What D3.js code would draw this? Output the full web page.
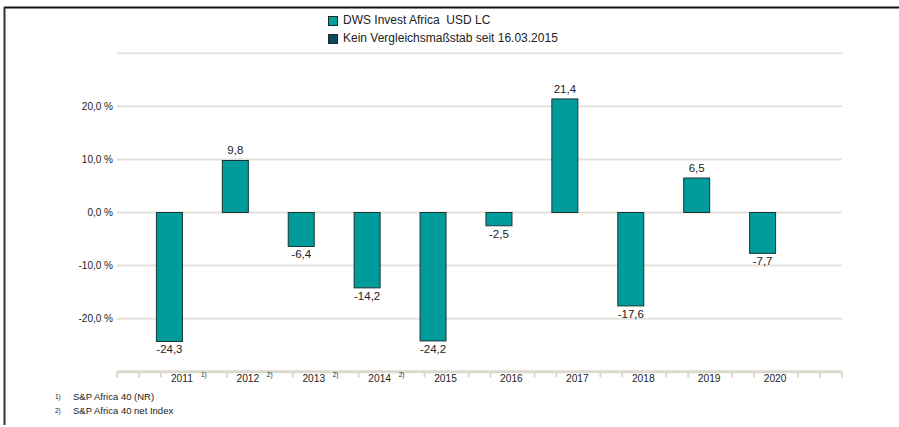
<!DOCTYPE html>
<html>
<head>
<meta charset="utf-8">
<script src="https://cdn.jsdelivr.net/npm/d3@7"></script>
<style>
  body { margin: 0; background: #fff; }
  svg { display: block; font-family: "Liberation Sans", Arial, sans-serif; }
  text { white-space: pre; }
</style>
</head>
<body>
<div id="chart"></div>
<script>
const years = ["2011", "2012", "2013", "2014", "2015", "2016", "2017", "2018", "2019", "2020"];
const fundValues = [-24.3, 9.8, -6.4, -14.2, -24.2, -2.5, 21.4, -17.6, 6.5, -7.7];
const yearNotes = ["1)", "2)", "2)", "2)", "", "", "", "", "", ""];
const yTicks = [-20, -10, 0, 10, 20];
const gridValues = [-20, -10, 0, 10, 20, 30];
const legendItems = ["DWS Invest Africa  USD LC", "Kein Vergleichsmaßstab seit 16.03.2015"];
const legendColors = ["#06a0a0", "#0a4a68"];
const footnoteMarks = ["1)", "2)"];
const footnoteTexts = ["S&P Africa 40 (NR)", "S&P Africa 40 net Index"];

const width = 899, height = 427;
const barW = 27;

// German number format, plain hyphen for negatives
const fmt = v => v.toFixed(1).replace(".", ",");

const svg = d3.select("#chart").append("svg")
    .attr("width", width)
    .attr("height", height);

// frame lines (top and left only)
svg.append("line")
    .attr("x1", 4).attr("x2", width).attr("y1", 7.5).attr("y2", 7.5)
    .attr("stroke", "#111").attr("stroke-width", 2);
svg.append("line")
    .attr("x1", 4.5).attr("x2", 4.5).attr("y1", 7).attr("y2", 425)
    .attr("stroke", "#333").attr("stroke-width", 2);

// category index -1 .. 10, real years at 0..9
const x = d3.scaleLinear().domain([-1, 10]).range([117, 842]);
const y = d3.scaleLinear().domain([-30, 30]).range([371.7, 53.3]);

// grid
svg.append("g").selectAll("line")
    .data(gridValues)
    .join("line")
    .attr("x1", x(-1)).attr("x2", x(10))
    .attr("y1", d => y(d)).attr("y2", d => y(d))
    .attr("stroke", "#e4e2dc").attr("stroke-width", 2);

// y labels
svg.append("g").selectAll("text")
    .data(yTicks)
    .join("text")
    .attr("x", 113)
    .attr("y", d => y(d))
    .attr("dy", "0.35em")
    .attr("text-anchor", "end")
    .attr("font-size", 10)
    .attr("fill", "#222")
    .text(d => fmt(d) + " %");

// x axis line + ticks
const axisY = y(-30);
svg.append("line")
    .attr("x1", x(-1)).attr("x2", x(10))
    .attr("y1", axisY).attr("y2", axisY)
    .attr("stroke", "#dcd9d0").attr("stroke-width", 3);

let tickPos = [x(-1), x(10)];
d3.range(-1, 11).forEach(i => {
    const left = x(i) - 22, right = x(i) + 22;
    if (left > x(-1) && left < x(10)) tickPos.push(left);
    const hidden = i >= 0 && i < years.length && yearNotes[i] !== "";
    if (right > x(-1) && right < x(10) && !hidden) tickPos.push(right);
});
svg.append("g").selectAll("line")
    .data(tickPos)
    .join("line")
    .attr("x1", d => d).attr("x2", d => d)
    .attr("y1", axisY).attr("y2", axisY + 6)
    .attr("stroke", "#dcd9d0").attr("stroke-width", 2);

// x labels
const xl = svg.append("g").selectAll("g")
    .data(years)
    .join("g");
xl.append("text")
    .attr("x", (d, i) => x(i) - 1)
    .attr("y", axisY + 10)
    .attr("text-anchor", "middle")
    .attr("font-size", 10.2)
    .attr("fill", "#222")
    .text(d => d);
xl.append("text")
    .attr("x", (d, i) => x(i) + 18)
    .attr("y", axisY + 5)
    .attr("font-size", 6.5)
    .attr("fill", "#222")
    .text((d, i) => yearNotes[i]);

// bars
svg.append("g").selectAll("rect")
    .data(fundValues)
    .join("rect")
    .attr("x", (d, i) => x(i) - barW + 0.5)
    .attr("width", barW - 1)
    .attr("y", d => y(Math.max(0, d)))
    .attr("height", d => Math.abs(y(d) - y(0)))
    .attr("fill", "#009c9c")
    .attr("stroke", "#1c3434")
    .attr("stroke-width", 1);

// value labels
svg.append("g").selectAll("text")
    .data(fundValues)
    .join("text")
    .attr("x", (d, i) => x(i) - barW / 2)
    .attr("y", d => d >= 0 ? y(d) - 6 : y(d) + 12)
    .attr("text-anchor", "middle")
    .attr("font-size", 11.5)
    .attr("fill", "#222")
    .text(d => fmt(d));

// legend
const lg = svg.append("g").selectAll("g")
    .data(legendItems)
    .join("g")
    .attr("transform", (d, i) => `translate(328,${16 + i * 18})`);
lg.append("rect")
    .attr("x", 0.5).attr("y", 0.5)
    .attr("width", 9).attr("height", 9)
    .attr("fill", (d, i) => legendColors[i])
    .attr("stroke", "#1a2a2a");
lg.append("text")
    .attr("x", 15)
    .attr("y", 8)
    .attr("font-size", 12)
    .attr("fill", "#222")
    .text(d => d);

// footnotes
const fn = svg.append("g").selectAll("g")
    .data(footnoteTexts)
    .join("g")
    .attr("transform", (d, i) => `translate(0,${400 + i * 13.5})`);
fn.append("text")
    .attr("x", 55).attr("y", -1)
    .attr("font-size", 6.5)
    .attr("fill", "#222")
    .text((d, i) => footnoteMarks[i]);
fn.append("text")
    .attr("x", 73).attr("y", 0)
    .attr("font-size", 9.5)
    .attr("fill", "#222")
    .text(d => d);
</script>
</body>
</html>
